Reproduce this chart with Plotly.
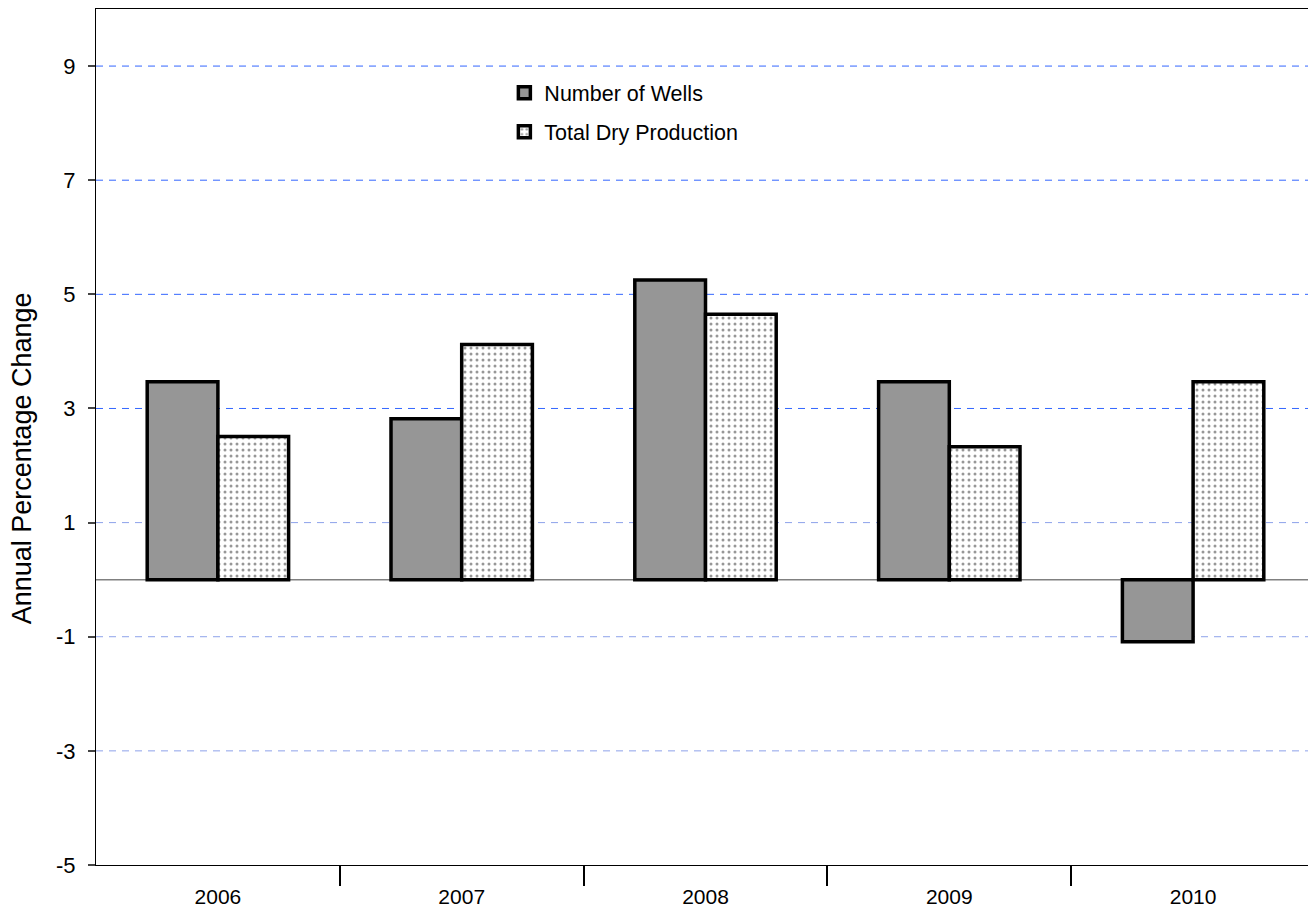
import plotly.graph_objects as go

years = ["2006", "2007", "2008", "2009", "2010"]
wells = [3.47, 2.82, 5.25, 3.47, -1.09]
production = [2.51, 4.12, 4.65, 2.33, 3.47]
ytick_vals = [-5, -3, -1, 1, 3, 5, 7, 9]
ytick_text = ["-5", "-3", "-1", "1", "3", "5", "7", "9"]
grid_upper = [3, 5, 7, 9]
grid_lower = [-3, -1, 1]
separators = [0.5, 1.5, 2.5, 3.5]

FONT = "Liberation Sans, Arial, sans-serif"

fig = go.Figure()
fig.add_trace(go.Bar(
    x=years, y=wells, name="Number of Wells",
    marker=dict(color="#969696", line=dict(color="black", width=3.5)),
    legendgroup="a",
))
fig.add_trace(go.Bar(
    x=years, y=production, name="Total Dry Production",
    marker=dict(color="white", line=dict(color="black", width=3.5),
                pattern=dict(shape=".", fgcolor="#303030", bgcolor="white",
                             size=6, solidity=0.2)),
    legendgroup="b",
))
# invisible helper trace for the separator-tick axis
fig.add_trace(go.Scatter(x=[separators[0]], y=[0], xaxis="x2", mode="markers",
                         marker=dict(opacity=0), showlegend=False, hoverinfo="skip"))

for g in grid_upper:
    fig.add_hline(y=g, line=dict(color="#3366ff", width=1, dash="7px,6px"), layer="below")
for g in grid_lower:
    fig.add_hline(y=g, line=dict(color="#8da2ea", width=1, dash="7px,6px"), layer="below")
fig.add_hline(y=0, line=dict(color="#808080", width=1.5), layer="below")

fig.add_annotation(text="Annual Percentage Change", textangle=-90,
                   xref="paper", yref="paper", x=-0.06, y=0.475,
                   xanchor="center", yanchor="middle", showarrow=False,
                   font=dict(size=27, color="black"))

fig.update_layout(
    width=1308, height=902,
    margin=dict(l=88, r=1, t=1, b=45),
    paper_bgcolor="white", plot_bgcolor="white",
    barmode="group", bargap=0.42, bargroupgap=0,
    font=dict(family=FONT, size=21, color="black"),
    showlegend=True,
    legend=dict(x=0.335, y=0.926, xanchor="left", yanchor="top",
                bgcolor="rgba(0,0,0,0)", font=dict(size=21.5),
                tracegroupgap=8, itemwidth=30),
    xaxis=dict(showline=True, linecolor="black", linewidth=1, mirror=True,
               showgrid=False, ticks="", ticklabelstandoff=13,
               tickfont=dict(size=21)),
    xaxis2=dict(overlaying="x", side="bottom", range=[-0.5, 4.5],
                tickvals=separators, showticklabels=False, showgrid=False,
                zeroline=False, showline=False, ticks="outside", ticklen=20,
                tickcolor="black", tickwidth=2),
    yaxis=dict(range=[-5, 10], tickvals=ytick_vals, ticktext=ytick_text,
               showgrid=False, zeroline=False, showline=True, linecolor="black",
               linewidth=1, mirror=True, ticks="outside", ticklen=7,
               tickcolor="#444444", tickwidth=1.5, ticklabelstandoff=8,
               tickfont=dict(size=22)),
)

fig.write_html("out.html")
